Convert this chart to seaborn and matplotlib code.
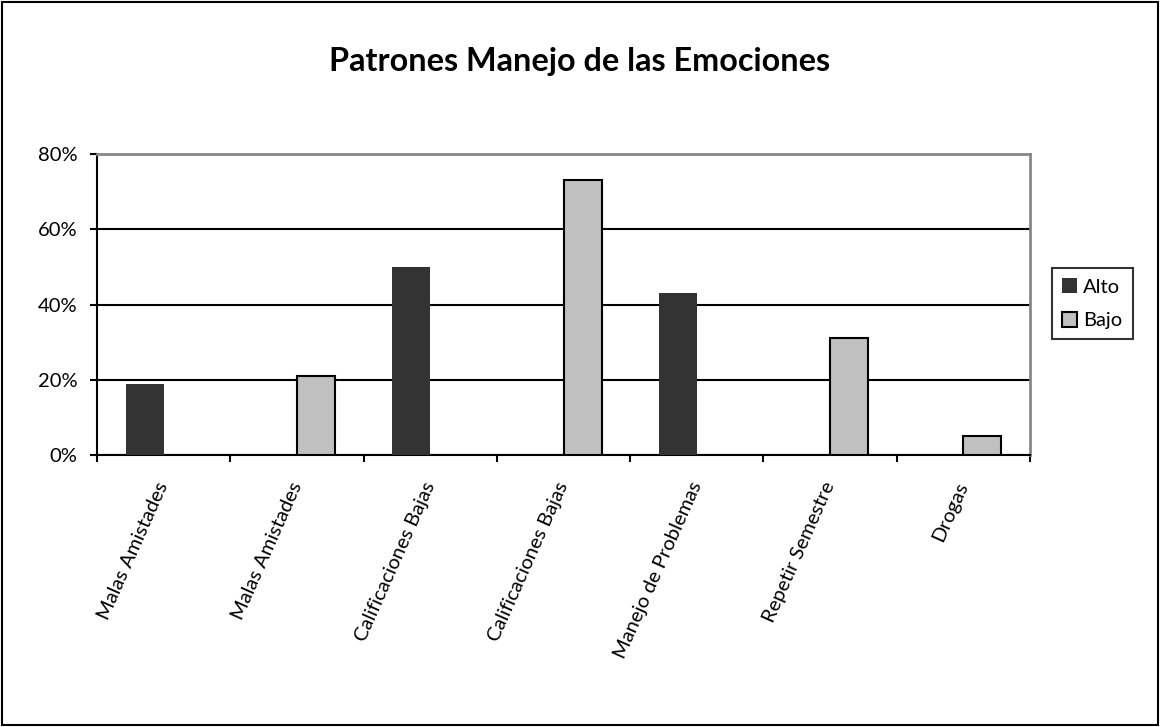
import matplotlib
matplotlib.use('Agg')
import matplotlib.pyplot as plt
from matplotlib.patches import Patch
import seaborn as sns
import pandas as pd
import numpy as np

# Data
categories = ['Malas Amistades', 'Malas Amistades', 'Calificaciones Bajas',
              'Calificaciones Bajas', 'Manejo de Problemas', 'Repetir Semestre', 'Drogas']
series = ['Alto', 'Bajo']
alto = [0.19, None, 0.50, None, 0.43, None, None]
bajo = [None, 0.21, None, 0.73, None, 0.31, 0.05]
y_ticks = [0, 0.2, 0.4, 0.6, 0.8]
y_labels = ['0%', '20%', '40%', '60%', '80%']
COLORS = {'Alto': '#333333', 'Bajo': '#C0C0C0'}

sns.set_theme(style="white")
plt.rcParams['font.family'] = ['Lato', 'DejaVu Sans']
plt.rcParams.update({'text.color': 'black', 'xtick.color': 'black',
                     'ytick.color': 'black', 'axes.labelcolor': 'black'})

rows = []
for i, cat in enumerate(categories):
    if alto[i] is not None:
        rows.append({'pos': str(i), 'Nivel': 'Alto', 'valor': alto[i]})
    if bajo[i] is not None:
        rows.append({'pos': str(i), 'Nivel': 'Bajo', 'valor': bajo[i]})
df = pd.DataFrame(rows)
order = [str(i) for i in range(len(categories))]

fig = plt.figure(figsize=(11.6, 7.27), dpi=100)
ax = fig.add_axes([0.0836, 0.374, 0.888 - 0.0836, 0.788 - 0.374])

sns.barplot(data=df, x='pos', y='valor', hue='Nivel', order=order, hue_order=series,
            palette=COLORS, width=0.57, dodge=True, ax=ax, legend=False, zorder=3)

# Bajo bars get a black outline, Alto bars none
for container, lvl in zip(ax.containers, series):
    for bar in container:
        if lvl == 'Bajo':
            bar.set_edgecolor('black')
            bar.set_linewidth(1.5)
        else:
            bar.set_edgecolor('none')

ax.set_ylim(0, 0.8)
ax.set_xlim(-0.5, len(categories) - 0.5)
ax.set_yticks(y_ticks)
ax.set_yticklabels(y_labels, fontsize=14.5)
ax.yaxis.grid(True, color='black', linewidth=1.5, zorder=0)
ax.set_axisbelow(True)

ax.set_xticks(range(len(categories)))
ax.set_xticklabels(categories, rotation=66, ha='right', va='center',
                   rotation_mode='anchor', fontsize=14.5)
ax.tick_params(axis='x', which='major', length=0, pad=20)
ax.set_xticks(np.arange(-0.5, len(categories)), minor=True)
ax.tick_params(axis='x', which='minor', length=5, width=1.5, color='black', direction='out', bottom=True)
ax.tick_params(axis='y', length=5, width=1.5, color='black', direction='out', left=True, pad=9)
ax.set_xlabel('')
ax.set_ylabel('')

for side in ['left', 'bottom']:
    ax.spines[side].set_color('black')
    ax.spines[side].set_linewidth(1.5)
for side in ['top', 'right']:
    ax.spines[side].set_color('#888888')
    ax.spines[side].set_linewidth(2)

# legend
handles = [Patch(facecolor=COLORS['Alto'], edgecolor='none', label='Alto'),
           Patch(facecolor=COLORS['Bajo'], edgecolor='black', linewidth=1.5, label='Bajo')]
leg = fig.legend(handles=handles, loc='center left', bbox_to_anchor=(0.907, 0.582),
                 fontsize=14.5, frameon=True, fancybox=False, handlelength=0.75,
                 handleheight=0.75, handletextpad=0.3, borderpad=0.5, labelspacing=0.8,
                 borderaxespad=0)
leg.get_frame().set_edgecolor('black')
leg.get_frame().set_linewidth(1.5)

fig.text(0.5, 0.915, 'Patrones Manejo de las Emociones', ha='center', va='center',
         fontsize=23.3, fontweight='bold')

# outer border
fig.patches.append(plt.Rectangle((0.002, 0.003), 0.996, 0.994, transform=fig.transFigure,
                                 fill=False, edgecolor='black', linewidth=1.5))

fig.savefig('out.png', dpi=100, facecolor='white')
